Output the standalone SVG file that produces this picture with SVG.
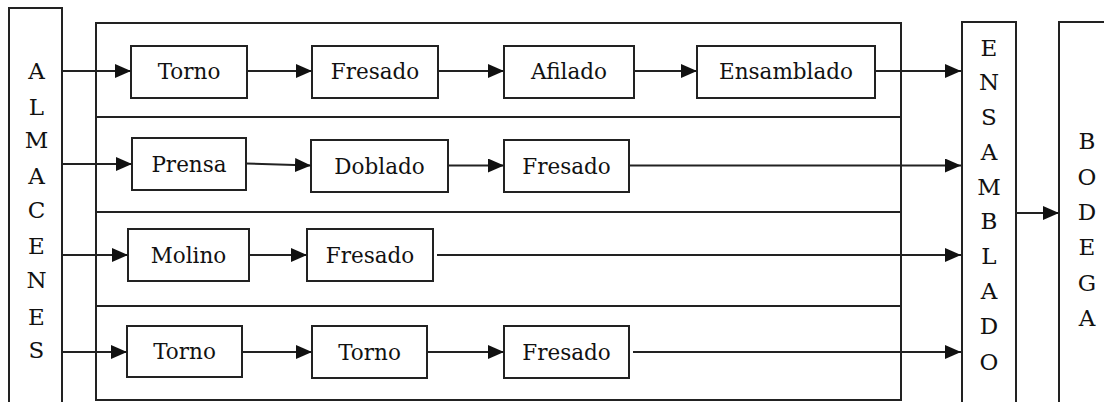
<svg xmlns="http://www.w3.org/2000/svg" width="1104" height="402" viewBox="0 0 1104 402">
<style>
.box{fill:#fff;stroke:#222;stroke-width:2}
.frame{fill:none;stroke:#222;stroke-width:2}
.t{font-family:"DejaVu Serif","Liberation Serif",serif;font-size:21.5px;fill:#111;text-anchor:middle}
.v{font-size:23px}
.c{fill:none;stroke:#222;stroke-width:2}
.a{marker-end:url(#ah)}
</style>
<defs>
<marker id="ah" markerUnits="userSpaceOnUse" markerWidth="17" markerHeight="15" refX="16" refY="7" orient="auto">
<path d="M0,0 L16,7 L0,14 Z" fill="#111"/>
</marker>
</defs>
<rect width="1104" height="402" fill="#fff"/>

<g id="almacenes">
<rect class="box" x="9" y="8" width="53" height="400"/>
<text class="t v"><tspan x="36.5" y="78.5">A</tspan><tspan x="36.5" y="115">L</tspan><tspan x="36.5" y="148">M</tspan><tspan x="36.5" y="184">A</tspan><tspan x="36.5" y="218">C</tspan><tspan x="36.5" y="254">E</tspan><tspan x="36.5" y="288">N</tspan><tspan x="36.5" y="325">E</tspan><tspan x="36.5" y="358">S</tspan></text>
</g>

<g id="container">
<rect class="frame" x="96" y="23" width="805" height="377"/>
<line class="frame" x1="96" y1="117" x2="901" y2="117"/>
<line class="frame" x1="96" y1="212" x2="901" y2="212"/>
<line class="frame" x1="96" y1="306" x2="901" y2="306"/>
</g>

<g id="ensamblado-col">
<rect class="box" x="962" y="22" width="54" height="390"/>
<text class="t v"><tspan x="989" y="55.5">E</tspan><tspan x="989" y="90">N</tspan><tspan x="989" y="125">S</tspan><tspan x="989" y="160">A</tspan><tspan x="989" y="194.5">M</tspan><tspan x="989" y="229">B</tspan><tspan x="989" y="264">L</tspan><tspan x="989" y="299">A</tspan><tspan x="989" y="334">D</tspan><tspan x="989" y="369.5">O</tspan></text>
</g>

<g id="bodega">
<rect class="box" x="1059" y="22" width="60" height="390"/>
<text class="t v"><tspan x="1087" y="149">B</tspan><tspan x="1087" y="184.5">O</tspan><tspan x="1087" y="220">D</tspan><tspan x="1087" y="255">E</tspan><tspan x="1087" y="290.5">G</tspan><tspan x="1087" y="326">A</tspan></text>
</g>

<g id="r1-torno"><rect class="box" x="131" y="46" width="116" height="52"/><text class="t" x="189" y="79">Torno</text></g>
<g id="r1-fresado"><rect class="box" x="312" y="46" width="126" height="52"/><text class="t" x="375" y="79">Fresado</text></g>
<g id="r1-afilado"><rect class="box" x="504" y="46" width="130" height="52"/><text class="t" x="569" y="79">Afilado</text></g>
<g id="r1-ensamblado"><rect class="box" x="697" y="46" width="178" height="52"/><text class="t" x="786" y="79">Ensamblado</text></g>

<g id="r2-prensa"><rect class="box" x="132" y="138" width="114" height="52"/><text class="t" x="189" y="171.5">Prensa</text></g>
<g id="r2-doblado"><rect class="box" x="311" y="140" width="137" height="52"/><text class="t" x="379.5" y="173.5">Doblado</text></g>
<g id="r2-fresado"><rect class="box" x="504" y="140" width="125" height="52"/><text class="t" x="566.5" y="173.5">Fresado</text></g>

<g id="r3-molino"><rect class="box" x="128" y="229" width="121" height="52"/><text class="t" x="188.5" y="262.5">Molino</text></g>
<g id="r3-fresado"><rect class="box" x="307" y="229" width="126" height="52"/><text class="t" x="370" y="262.5">Fresado</text></g>

<g id="r4-torno1"><rect class="box" x="127" y="326" width="115" height="51"/><text class="t" x="184.5" y="359">Torno</text></g>
<g id="r4-torno2"><rect class="box" x="312" y="326" width="115" height="52"/><text class="t" x="369.5" y="359.5">Torno</text></g>
<g id="r4-fresado"><rect class="box" x="504" y="326" width="125" height="52"/><text class="t" x="566.5" y="359.5">Fresado</text></g>

<g id="connectors">
<line class="c a" x1="62" y1="71" x2="131" y2="71"/>
<line class="c a" x1="247" y1="71" x2="312" y2="71"/>
<line class="c a" x1="438" y1="71" x2="504" y2="71"/>
<line class="c a" x1="634" y1="71" x2="697" y2="71"/>
<line class="c a" x1="875" y1="71" x2="961" y2="71"/>

<line class="c a" x1="62" y1="164" x2="132" y2="164"/>
<line class="c a" x1="246" y1="163.5" x2="311" y2="165.5"/>
<line class="c a" x1="448" y1="165.5" x2="504" y2="165.5"/>
<line class="c a" x1="629" y1="165.5" x2="961" y2="165.5"/>

<line class="c a" x1="62" y1="255" x2="128" y2="255"/>
<line class="c a" x1="249" y1="255" x2="307" y2="255"/>
<line class="c a" x1="437" y1="255" x2="961" y2="255"/>

<line class="c a" x1="62" y1="352" x2="127" y2="352"/>
<line class="c a" x1="242" y1="352" x2="312" y2="352"/>
<line class="c a" x1="427" y1="352" x2="504" y2="352"/>
<line class="c a" x1="633" y1="352" x2="961" y2="352"/>

<line class="c a" x1="1016" y1="213" x2="1059" y2="213"/>
</g>
</svg>
